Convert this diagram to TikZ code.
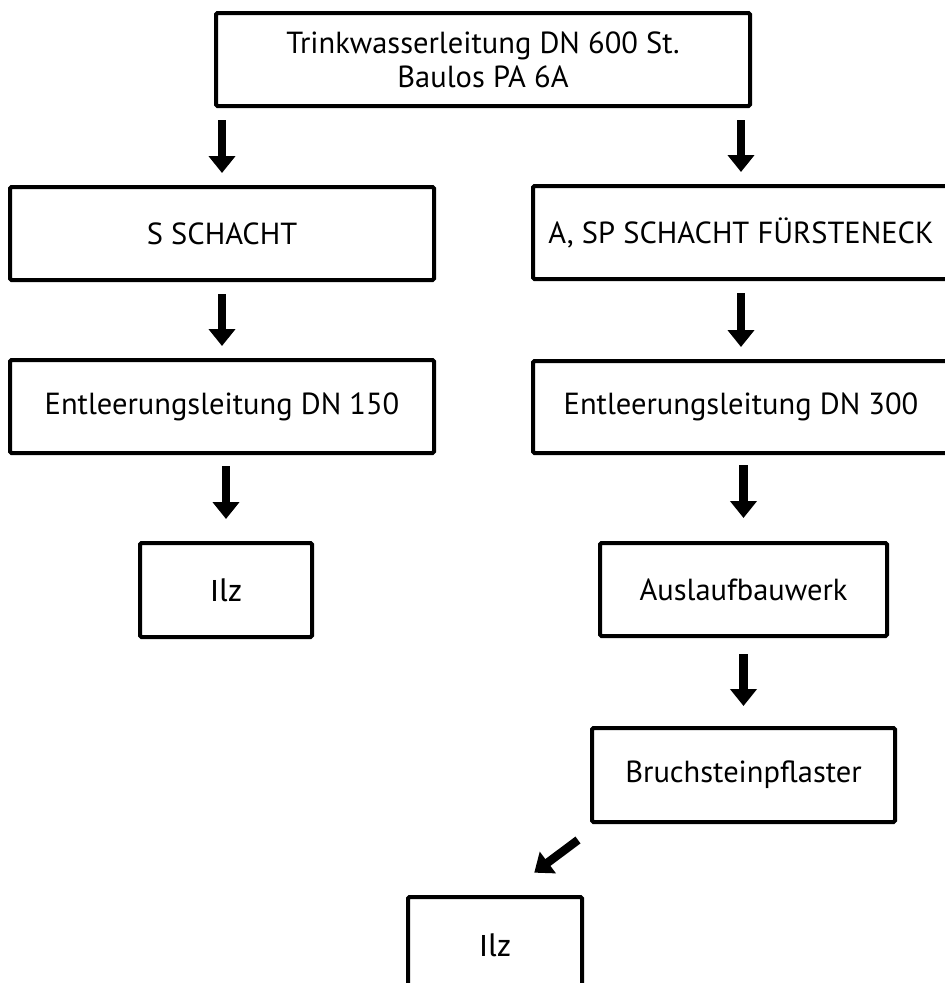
\documentclass[tikz,border=0pt]{standalone}
\usepackage{fontspec}
\setmainfont{PT Sans}
\newfontfamily\ilzfont{Fira Sans}
\usetikzlibrary{arrows.meta}

\begin{document}
\begin{tikzpicture}[x=1pt,y=-1pt]
\tikzstyle{box} = [draw, line width=4pt, rounded corners=1.5pt, align=center, inner sep=0pt, font=\fontsize{30.5}{34}\selectfont]
\tikzstyle{arr} = [line width=8.5pt, -{Triangle[length=17pt,width=26pt]}, shorten <=12pt, shorten >=12pt]

\useasboundingbox (0,0) rectangle (945,983);
\clip (0,0) rectangle (945,983);

\node[box, minimum width=534pt, minimum height=93pt] (top) at (483,59.5) {Trinkwasserleitung DN 600 St.\\Baulos PA 6A};

% left branch
\node[box, minimum width=424pt, minimum height=93pt] (sch) at (222,233.5) {S SCHACHT};
\node[box, minimum width=424pt, minimum height=93pt] (dnone) at (222,406.5) {Entleerungsleitung DN 150};
\node[box, minimum width=172pt, minimum height=94pt] (ilzone) at (226,590) {\ilzfont Ilz};

% right branch
\node[box, minimum width=416pt, minimum height=93pt] (fue) at (741,232.5) {A, SP SCHACHT FÜRSTENECK};
\node[box, minimum width=416pt, minimum height=92pt] (dnthree) at (741,407) {Entleerungsleitung DN 300};
\node[box, minimum width=287pt, minimum height=93pt] (ausl) at (743.5,589.5) {Auslaufbauwerk};
\node[box, minimum width=303pt, minimum height=94pt] (bruch) at (743.5,775) {Bruchsteinpflaster};
\node[box, minimum width=174pt, minimum height=96pt] (ilztwo) at (495,945) {\ilzfont Ilz};

\draw[arr] (top.south -| sch.north) -- (sch.north);
\draw[arr] (top.south -| fue.north) -- (fue.north);
\draw[arr] (sch.south) -- (dnone.north);
\draw[arr] (fue.south) -- (dnthree.north);
\draw[arr, shorten <=11pt, shorten >=22pt] (dnone.south -| ilzone.north) -- (ilzone.north);
\draw[arr, shorten <=10pt, shorten >=23pt] (dnthree.south -| ausl.north) -- (ausl.north);
\draw[arr, shorten <=16pt, shorten >=20pt] (ausl.south) -- (bruch.north);
\draw[arr, shorten <=15pt, shorten >=49pt] ([yshift=-7pt]bruch.south west) -- ([yshift=-7pt]ilztwo.north);

\end{tikzpicture}
\end{document}
